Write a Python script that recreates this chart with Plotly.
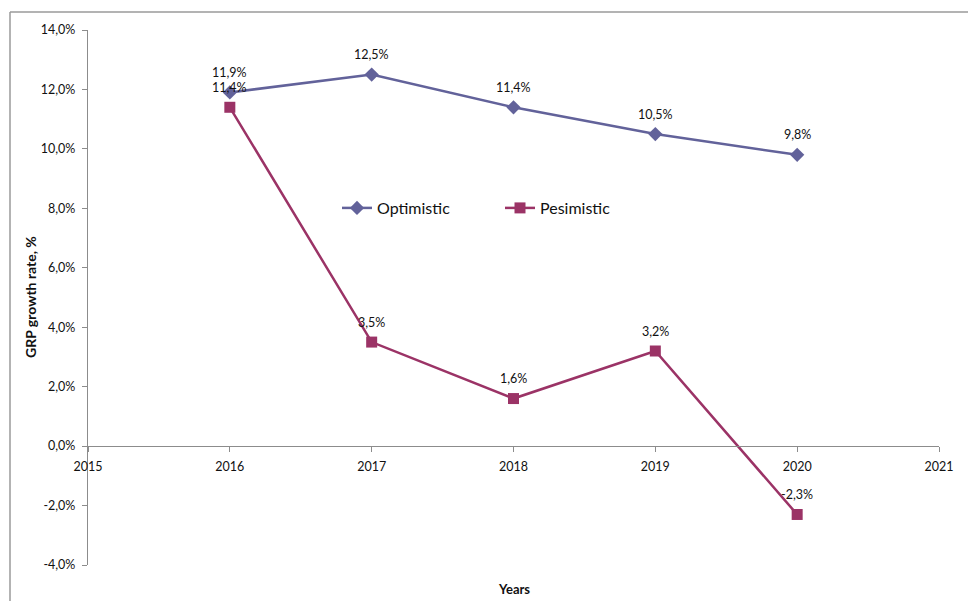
import plotly.graph_objects as go

years = [2016, 2017, 2018, 2019, 2020]
optimistic = [11.9, 12.5, 11.4, 10.5, 9.8]
pessimistic = [11.4, 3.5, 1.6, 3.2, -2.3]
y_ticks = [-4, -2, 0, 2, 4, 6, 8, 10, 12, 14]
x_ticks = [2015, 2016, 2017, 2018, 2019, 2020, 2021]

OPT_COLOR = "#62629A"
PES_COLOR = "#9B3366"
FONT = "Lato, 'Open Sans', sans-serif"
TEXT_COLOR = "#111111"


def pct_label(v):
    return f"{v:.1f}%".replace(".", ",")


fig = go.Figure()
series = [("Optimistic", optimistic, OPT_COLOR, "diamond"),
          ("Pesimistic", pessimistic, PES_COLOR, "square")]
for name, values, color, symbol in series:
    fig.add_trace(go.Scatter(
        x=years, y=values, name=name,
        mode="lines+markers",
        line=dict(color=color, width=2.5),
        marker=dict(symbol=symbol, size=11, color=color),
    ))
    # value labels sit above each point
    for x, v in zip(years, values):
        fig.add_annotation(x=x, y=v, text=pct_label(v), showarrow=False,
                           yshift=20, font=dict(size=12.5, family=FONT, color=TEXT_COLOR))

W, H = 968, 601
ML, MR, MT, MB = 88, 29, 30, 36
pw, ph = W - ML - MR, H - MT - MB
y_min, y_max = -4, 14
zero_pos = (0 - y_min) / (y_max - y_min)

# outer chart frame (left and top edges visible)
frame_x = (10 - ML) / pw
frame_top = (H - MB - 12) / ph
frame_bottom = (H - MB - H - 5) / ph
frame_right = (W + 5 - ML) / pw
fig.add_shape(type="line", xref="paper", yref="paper",
              x0=frame_x, x1=frame_x, y0=frame_bottom, y1=frame_top,
              line=dict(color="#9A9A9A", width=1.5))
fig.add_shape(type="line", xref="paper", yref="paper",
              x0=frame_x, x1=frame_right, y0=frame_top, y1=frame_top,
              line=dict(color="#9A9A9A", width=1.5))

fig.add_annotation(text="<b>GRP growth rate, %</b>", xref="paper", yref="paper",
                   x=(30 - ML) / pw, y=(H - MB - 297) / ph, textangle=-90,
                   xanchor="center", yanchor="middle",
                   showarrow=False, font=dict(size=14, family=FONT, color=TEXT_COLOR))
fig.add_annotation(text="<b>Years</b>", xref="paper", yref="paper",
                   x=0.5, y=(H - MB - 589) / ph, xanchor="center", yanchor="middle",
                   showarrow=False, font=dict(size=13, family=FONT, color=TEXT_COLOR))

fig.update_layout(
    width=W, height=H,
    margin=dict(l=ML, r=MR, t=MT, b=MB),
    paper_bgcolor="white", plot_bgcolor="white",
    font=dict(family=FONT, size=12, color=TEXT_COLOR),
    showlegend=True,
    legend=dict(orientation="h", x=(337 - ML) / pw, y=(H - MB - 208) / ph,
                xanchor="left", yanchor="middle",
                font=dict(size=16, family=FONT, color=TEXT_COLOR),
                entrywidth=118, entrywidthmode="pixels",
                bgcolor="rgba(0,0,0,0)"),
    hovermode=False,
    xaxis=dict(range=[2015, 2021], tickvals=x_ticks, ticktext=[str(v) for v in x_ticks],
               showgrid=False, zeroline=False, showline=True, linecolor="#8C8C8C",
               linewidth=1.2, ticks="outside", ticklen=5, tickcolor="#8C8C8C",
               anchor="free", position=zero_pos, tickfont=dict(size=12.5),
               ticklabelstandoff=4),
    yaxis=dict(range=[y_min, y_max], tickvals=y_ticks,
               ticktext=[pct_label(v) for v in y_ticks],
               showgrid=False, zeroline=False, showline=True, linecolor="#8C8C8C",
               linewidth=1.2, ticks="outside", ticklen=5, tickcolor="#8C8C8C",
               tickfont=dict(size=12.5), ticklabelstandoff=4),
)

fig.write_html("out.html", config={"displayModeBar": False})
